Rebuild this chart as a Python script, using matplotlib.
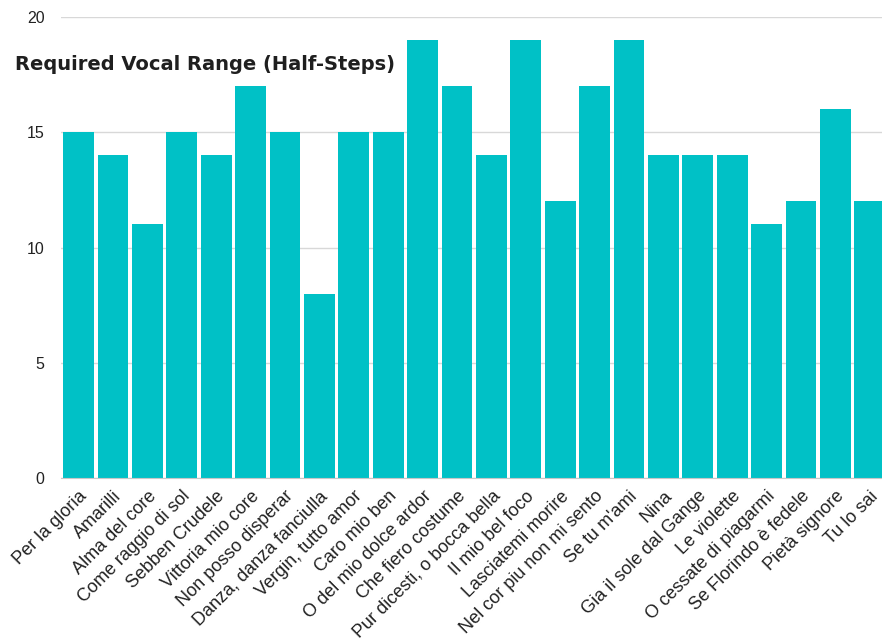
import matplotlib
matplotlib.use("Agg")
import matplotlib.pyplot as plt
import numpy as np

# Italian art songs and the vocal range each one asks for
songs = [
    "Per la gloria", "Amarilli", "Alma del core", "Come raggio di sol",
    "Sebben Crudele", "Vittoria mio core", "Non posso disperar",
    "Danza, danza fanciulla", "Vergin, tutto amor", "Caro mio ben",
    "O del mio dolce ardor", "Che fiero costume", "Pur dicesti, o bocca bella",
    "Il mio bel foco", "Lasciatemi morire", "Nel cor piu non mi sento",
    "Se tu m'ami", "Nina", "Gia il sole dal Gange", "Le violette",
    "O cessate di piagarmi", "Se Florindo è fedele", "Pietà signore", "Tu lo sai",
]
half_steps = [15, 14, 11, 15, 14, 17, 15, 8, 15, 15, 19, 17, 14, 19, 12, 17,
              19, 14, 14, 14, 11, 12, 16, 12]
y_ticks = [0, 5, 10, 15, 20]

W, H = 882, 642
fig = plt.figure(figsize=(W / 100, H / 100), dpi=100)
# axes runs a little past the right edge, so the last bar is clipped
ax = fig.add_axes([61.4 / W, (H - 478) / H, 825.6 / W, 461 / H])

x = np.arange(len(songs))
ax.bar(x, half_steps, width=0.89, color="#00c1c6", zorder=2)

ax.set_xlim(-0.5, len(songs) - 0.5)
ax.set_ylim(0, 20)
ax.set_yticks(y_ticks)
ax.yaxis.grid(True, color="#d8d8d8", linewidth=1, zorder=0)
ax.set_axisbelow(True)
for side in ["top", "right", "left"]:
    ax.spines[side].set_visible(False)
ax.spines["bottom"].set_color("#c8c8c8")
ax.spines["bottom"].set_zorder(3)

ax.tick_params(axis="y", length=0, pad=12, labelsize=11.5, labelcolor="#222222")
ax.tick_params(axis="x", length=0, pad=7)
ax.set_xticks(x)
ax.set_xticklabels(songs, rotation=45, ha="right", rotation_mode="anchor",
                   fontsize=13, color="#222222", family="Liberation Sans")
for lab in ax.get_yticklabels():
    lab.set_family("Liberation Sans")

fig.text(15 / W, (H - 65) / H, "Required Vocal Range (Half-Steps)",
         fontsize=14, fontweight="bold", family="DejaVu Sans",
         color="#1f1f1f", va="center", ha="left")

fig.savefig("out.png", dpi=100)
